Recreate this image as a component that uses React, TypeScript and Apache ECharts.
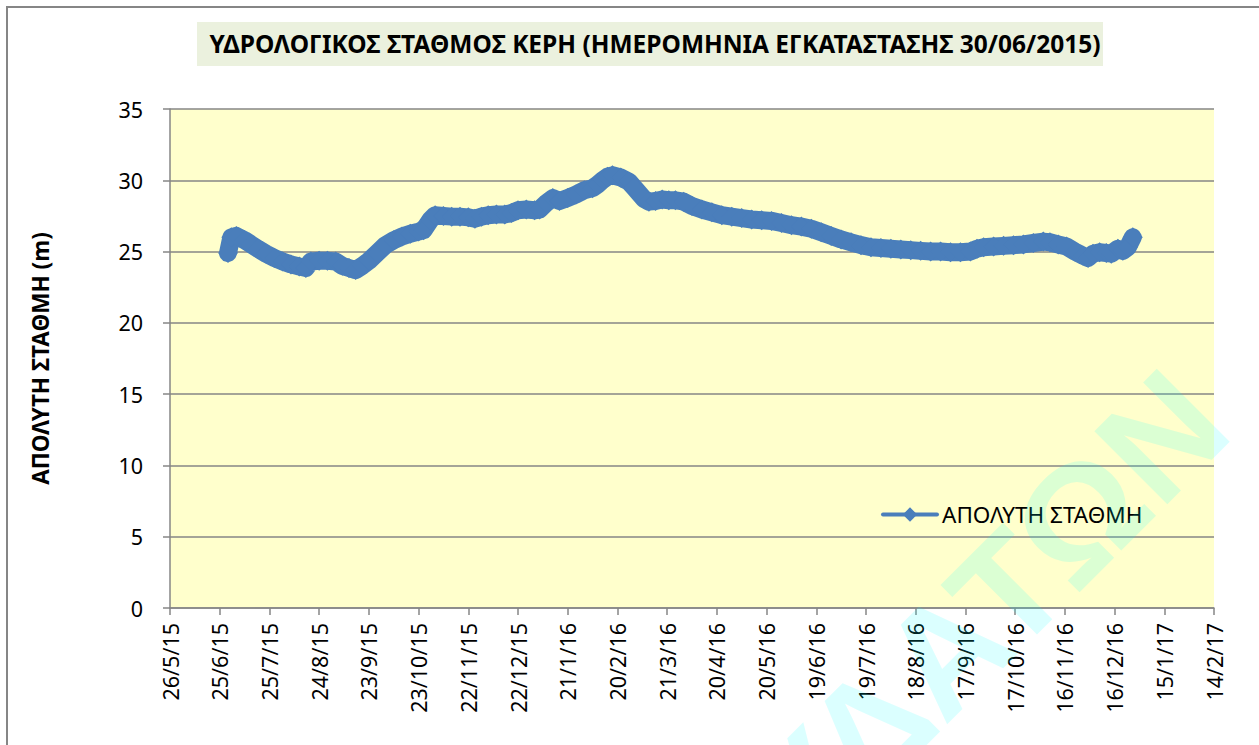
import React, { useEffect, useRef } from "react";
import * as echarts from "echarts";

const titleText = "ΥΔΡΟΛΟΓΙΚΟΣ ΣΤΑΘΜΟΣ ΚΕΡΗ (ΗΜΕΡΟΜΗΝΙΑ ΕΓΚΑΤΑΣΤΑΣΗΣ 30/06/2015)";
const seriesName = "ΑΠΟΛΥΤΗ ΣΤΑΘΜΗ";
const yAxisName = "ΑΠΟΛΥΤΗ ΣΤΑΘΜΗ (m)";
const watermarkText = "ΥΔΑΤΩΝ";

// x tick labels, one every 30 days starting 26/5/15
const xTickLabels = [
  "26/5/15", "25/6/15", "25/7/15", "24/8/15", "23/9/15", "23/10/15", "22/11/15",
  "22/12/15", "21/1/16", "20/2/16", "21/3/16", "20/4/16", "20/5/16", "19/6/16",
  "19/7/16", "18/8/16", "17/9/16", "17/10/16", "16/11/16", "16/12/16", "15/1/17", "14/2/17",
];
const xStepDays = 30;

// days since 26/5/2015
const dayOffsets = [
  35, 37, 40, 45, 49, 53, 58, 63, 68, 73, 78, 82, 85, 90, 95, 100, 104, 108, 112, 116,
  120, 125, 130, 135, 140, 145, 150, 153, 157, 160, 165, 170, 175, 180, 184, 188, 192, 197,
  202, 206, 210, 215, 220, 223, 227, 231, 235, 240, 245, 250, 255, 258, 261, 264, 267, 272,
  277, 280, 283, 286, 289, 293, 297, 301, 305, 310, 315, 321, 327, 333, 339, 345, 351, 357,
  363, 369, 375, 381, 387, 393, 399, 405, 411, 417, 423, 429, 435, 441, 447, 453, 459, 465,
  471, 477, 483, 487, 491, 497, 503, 509, 515, 521, 527, 531, 536, 541, 546, 551, 554, 557,
  561, 565, 568, 572, 575, 578, 581,
];
const levels = [
  24.9, 26.0, 26.1, 25.8, 25.5, 25.2, 24.85, 24.55, 24.3, 24.1, 23.95, 23.85, 24.3, 24.35, 24.35, 24.3, 24.0, 23.85, 23.7, 24.0,
  24.35, 24.9, 25.45, 25.8, 26.05, 26.25, 26.4, 26.5, 27.2, 27.55, 27.5, 27.45, 27.45, 27.4, 27.3, 27.45, 27.55, 27.6,
  27.6, 27.7, 27.9, 27.95, 27.9, 27.95, 28.4, 28.75, 28.55, 28.75, 29.0, 29.3, 29.45, 29.7, 30.0, 30.25, 30.35, 30.2,
  29.9, 29.5, 29.1, 28.7, 28.5, 28.55, 28.65, 28.6, 28.6, 28.5, 28.2, 27.95, 27.75, 27.55, 27.45, 27.35, 27.25, 27.2,
  27.15, 27.0, 26.85, 26.75, 26.6, 26.35, 26.1, 25.85, 25.65, 25.45, 25.3, 25.25, 25.2, 25.15, 25.1, 25.05, 25.0, 25.0,
  24.95, 24.95, 25.0, 25.2, 25.3, 25.35, 25.4, 25.45, 25.5, 25.6, 25.7, 25.65, 25.5, 25.35, 25.0, 24.7, 24.55, 24.85,
  24.95, 24.9, 24.85, 25.2, 25.05, 25.3, 26.0,
];

const yMin = 0;
const yMax = 35;
const yStep = 5;

export default function App() {
  const ref = useRef<HTMLDivElement>(null);
  useEffect(() => {
    if (!ref.current) return;
    const chart = echarts.init(ref.current, undefined, { renderer: "svg" });
    const font = "'Noto Sans', 'Open Sans', sans-serif";
    const data = dayOffsets.map((d, i) => [d, levels[i]]);
    chart.setOption({
      animation: false,
      backgroundColor: "#ffffff",
      textStyle: { fontFamily: font },
      title: {
        text: titleText,
        left: 650,
        top: 26,
        textAlign: "center",
        textStyle: { fontSize: 24.5, fontWeight: "bold", color: "#000", fontFamily: font },
      },
      grid: {
        left: 170,
        right: 45,
        top: 109,
        bottom: 137,
        show: true,
        backgroundColor: "#FFFFCC",
        borderWidth: 0,
      },
      legend: {
        data: [seriesName],
        left: 876,
        top: 498,
        itemWidth: 54,
        itemHeight: 18,
        itemGap: 0,
        lineStyle: { width: 4 },
        textStyle: { fontSize: 22.5, color: "#000", fontFamily: font },
      },
      xAxis: {
        type: "value",
        min: 0,
        max: (xTickLabels.length - 1) * xStepDays,
        interval: xStepDays,
        axisLine: { show: true, lineStyle: { color: "#868686", width: 1.5 } },
        axisTick: { show: true, length: 7, lineStyle: { color: "#868686", width: 1.5 } },
        splitLine: { show: false },
        axisLabel: {
          rotate: 90,
          margin: 15,
          fontSize: 21.5,
          color: "#000",
          fontFamily: font,
          showMinLabel: true,
          showMaxLabel: true,
          formatter: (v: number) => xTickLabels[Math.round(v / xStepDays)] ?? "",
        },
      },
      yAxis: {
        type: "value",
        min: yMin,
        max: yMax,
        interval: yStep,
        name: yAxisName,
        nameLocation: "middle",
        nameRotate: 90,
        nameGap: 118,
        nameTextStyle: { fontSize: 22.5, fontWeight: "bold", color: "#000", fontFamily: font },
        axisLine: { show: true, lineStyle: { color: "#868686", width: 1.5 } },
        axisTick: { show: true, length: 7, lineStyle: { color: "#868686", width: 1.5 } },
        splitLine: { show: true, lineStyle: { color: "#868686", width: 1.5 } },
        axisLabel: { fontSize: 21.5, color: "#000", margin: 27, fontFamily: font },
      },
      series: [
        {
          name: seriesName,
          type: "line",
          data,
          symbol: "diamond",
          symbolSize: 20,
          showSymbol: true,
          lineStyle: { color: "#4A7EBB", width: 18, cap: "round", join: "round" },
          itemStyle: { color: "#4A7EBB", borderWidth: 0 },
          emphasis: { disabled: true },
          z: 3,
        },
      ],
      graphic: [
        {
          type: "rect",
          z: -1,
          shape: { x: 197, y: 22, width: 906, height: 44 },
          style: { fill: "#EBF1DE" },
          silent: true,
        },
        {
          type: "rect",
          z: 100,
          shape: { x: 7, y: 7, width: 1400, height: 900 },
          style: { fill: "none", stroke: "#868686", lineWidth: 2 },
          silent: true,
        },
        {
          type: "text",
          z: 200,
          x: 1200,
          y: 398,
          rotation: Math.PI / 4,
          silent: true,
          style: {
            text: watermarkText,
            fontSize: 150,
            fontWeight: "bold",
            fontFamily: "'Liberation Sans', sans-serif",
            fill: "rgba(0,255,255,0.14)",
            align: "right",
            verticalAlign: "middle",
          },
        },
      ],
    });
    return () => chart.dispose();
  }, []);
  return (
    <div
      ref={ref}
      style={{ position: "fixed", left: 0, top: 0, width: 1259, height: 745, background: "#fff" }}
    />
  );
}
